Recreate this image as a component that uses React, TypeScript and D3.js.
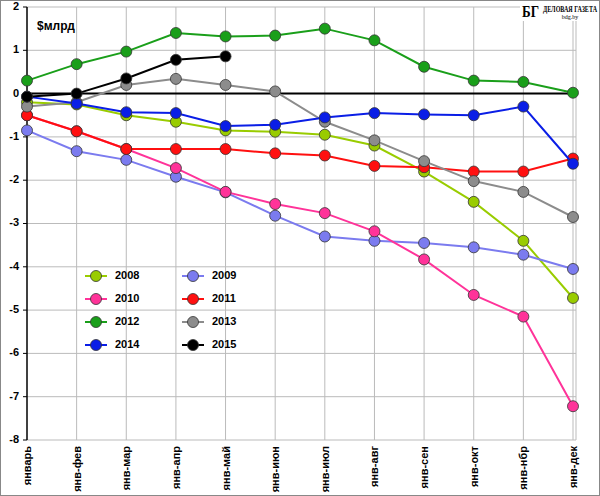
import * as d3 from "d3";

const MONTHS = ["январь", "янв-фев", "янв-мар", "янв-апр", "янв-май", "янв-июн", "янв-июл", "янв-авг", "янв-сен", "янв-окт", "янв-нбр", "янв-дек"];
const Y_TICKS = [2, 1, 0, -1, -2, -3, -4, -5, -6, -7, -8];

const S2008 = [-0.2, -0.25, -0.5, -0.65, -0.85, -0.88, -0.95, -1.2, -1.8, -2.5, -3.4, -4.72];
const S2009 = [-0.85, -1.33, -1.53, -1.92, -2.28, -2.82, -3.3, -3.4, -3.45, -3.55, -3.72, -4.05];
const S2010 = [-0.5, -0.87, -1.28, -1.72, -2.27, -2.55, -2.76, -3.18, -3.83, -4.65, -5.15, -7.22];
const S2011 = [-0.5, -0.87, -1.28, -1.28, -1.28, -1.38, -1.43, -1.67, -1.7, -1.8, -1.8, -1.5];
const S2012 = [0.3, 0.68, 0.97, 1.4, 1.32, 1.34, 1.5, 1.23, 0.62, 0.3, 0.27, 0.02];
const S2013 = [-0.3, -0.2, 0.2, 0.34, 0.2, 0.05, -0.65, -1.08, -1.56, -2.02, -2.27, -2.85];
const S2014 = [-0.07, -0.23, -0.43, -0.45, -0.75, -0.72, -0.55, -0.45, -0.48, -0.5, -0.3, -1.62];
const S2015 = [-0.07, 0.0, 0.35, 0.78, 0.86];

const SERIES = [
  {name: "2008", values: S2008, color: "#99cc00"},
  {name: "2009", values: S2009, color: "#7b7bef"},
  {name: "2010", values: S2010, color: "#ff3399"},
  {name: "2011", values: S2011, color: "#ff1010"},
  {name: "2012", values: S2012, color: "#1a9f1a"},
  {name: "2013", values: S2013, color: "#8c8c8c"},
  {name: "2014", values: S2014, color: "#0a1ee6"},
  {name: "2015", values: S2015, color: "#000000"},
];

const W = 600, H = 496;
const LEFT = 27, RIGHT = 576, TOP = 7, BOTTOM = 440;
const FONT = "Arial, 'Liberation Sans', sans-serif";

export default function App() {
  const x = d3.scalePoint<string>().domain(MONTHS).range([LEFT, 573]);
  const y = d3.scaleLinear().domain([-8, 2]).range([BOTTOM, TOP]);
  const line = d3.line<number>().x((_, i) => x(MONTHS[i])!).y(d => y(d));

  return (
    <svg width={W} height={H} style={{position: "absolute", left: 0, top: 0}} fontFamily={FONT}>
      <rect x={0.5} y={0.5} width={W - 1} height={H - 1} fill="white" stroke="#888" />
      {Y_TICKS.map(t => (
        <g key={t}>
          <line x1={LEFT} x2={RIGHT} y1={y(t)} y2={y(t)} stroke="#bbb" />
          <line x1={LEFT - 4} x2={LEFT} y1={y(t)} y2={y(t)} stroke="#000" />
          <text x={LEFT - 8} y={y(t)} textAnchor="end" dominantBaseline="middle" fontSize={11} fontWeight="bold">{t}</text>
        </g>
      ))}
      {MONTHS.slice(1).map(m => (
        <line key={m} x1={x(m)} x2={x(m)} y1={TOP} y2={BOTTOM} stroke="#bbb" />
      ))}
      <line x1={RIGHT} x2={RIGHT} y1={TOP} y2={BOTTOM} stroke="#bbb" />
      <line x1={LEFT} x2={LEFT} y1={TOP} y2={BOTTOM} stroke="#000" strokeWidth={1.5} />
      <line x1={LEFT} x2={RIGHT} y1={y(0)} y2={y(0)} stroke="#000" strokeWidth={2} />
      {MONTHS.map(m => (
        <text key={m} transform={`translate(${x(m)! + 4},${BOTTOM + 6}) rotate(-90)`} textAnchor="end" fontSize={11} fontWeight="bold">{m}</text>
      ))}
      <text x={37} y={30} fontSize={12} fontWeight="bold">$млрд</text>
      {SERIES.map(s => (
        <g key={s.name}>
          <path d={line(s.values)!} fill="none" stroke={s.color} strokeWidth={2} />
          {s.values.map((v, i) => (
            <circle key={i} cx={x(MONTHS[i])} cy={y(v)} r={5.5} fill={s.color} stroke="#333" strokeWidth={0.8} />
          ))}
        </g>
      ))}
      {SERIES.map((s, i) => {
        const lx = 85 + (i % 2) * 97, ly = 276 + Math.floor(i / 2) * 23;
        return (
          <g key={s.name}>
            <line x1={lx} x2={lx + 22} y1={ly} y2={ly} stroke={s.color} strokeWidth={2} />
            <circle cx={lx + 11} cy={ly} r={5.5} fill={s.color} stroke="#333" strokeWidth={0.8} />
            <text x={lx + 30} y={ly} dominantBaseline="middle" fontSize={11} fontWeight="bold">{s.name}</text>
          </g>
        );
      })}
      <rect x={520} y={1} width={79} height={20} fill="white" />
      <text x={522} y={17} fontSize={17} fontWeight="bold" fontFamily="'Liberation Serif', serif" textLength={17} lengthAdjust="spacingAndGlyphs">БГ</text>
      <text x={543} y={12} fontSize={8} fontWeight="bold" fontFamily="'Liberation Serif', serif" textLength={54} lengthAdjust="spacingAndGlyphs">ДЕЛОВАЯ ГАЗЕТА</text>
      <text x={570} y={19} fontSize={6} textAnchor="middle" fontFamily="'Liberation Serif', serif">bdg.by</text>
    </svg>
  );
}
